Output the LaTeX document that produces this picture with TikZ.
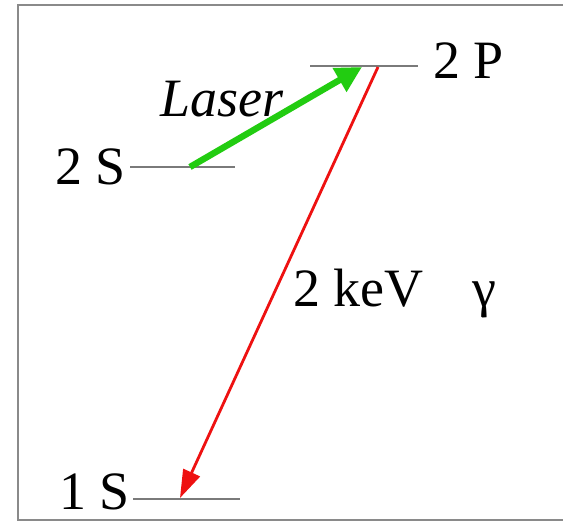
\documentclass[tikz,border=0pt]{standalone}
\usepackage{fontspec}
\setmainfont{Liberation Serif}
\newfontfamily\labfont{Liberation Serif}
\usepackage{tikz}
\usetikzlibrary{arrows.meta}
\definecolor{frame}{HTML}{8A8A8A}
\definecolor{level}{HTML}{7A7A7A}
\definecolor{pump}{HTML}{22CC11}
\definecolor{decay}{HTML}{EE1111}
\tikzset{
  lvl/.style={draw=level, line width=1pt},
  lab/.style={inner sep=0pt, font=\labfont\fontsize{27}{30}\selectfont},
  pumparrow/.style={-{Triangle[length=13pt, width=13pt]}, draw=pump, line width=3.2pt},
  decayarrow/.style={-{Triangle[length=14pt, width=9pt]}, draw=decay, line width=1.4pt}
}
\begin{document}
\begin{tikzpicture}[x=0.5pt, y=-0.5pt]
  \useasboundingbox (0,0) rectangle (563,522);
  \fill[white] (0,0) rectangle (563,522);
  \begin{scope}
    \clip (0,0) rectangle (563,522);
    \draw[frame, line width=1pt] (18,5) rectangle (600,520);
  \end{scope}
  % levels
  \coordinate (pL) at (310,66);  \coordinate (pR) at (418,66);
  \coordinate (sL) at (130,167); \coordinate (sR) at (235,167);
  \coordinate (gL) at (133,499); \coordinate (gR) at (240,499);
  \draw[lvl] (pL)--(pR); \draw[lvl] (sL)--(sR); \draw[lvl] (gL)--(gR);
  \node[lab, anchor=base west] (p2) at (433,79) {2 P};
  \node[lab, anchor=base east] (s2) at (126,185) {2 S};
  \node[lab, anchor=base east] (s1) at (130,510) {1 S};
  % transitions
  \coordinate (pumpA) at (190,167); \coordinate (pumpB) at (362,67);
  \coordinate (decA) at (378,67);   \coordinate (decB) at (180,498);
  \draw[pumparrow] (pumpA)--(pumpB);
  \draw[decayarrow] (decA)--(decB);
  \node[lab, anchor=base west, font=\labfont\fontsize{27}{30}\selectfont\itshape] (laser) at (160,117) {Laser};
  \node[lab, anchor=base west] (kev) at (293,307) {2 keV};
  \node[lab, anchor=base west] (gam) at (472,307) {γ};
\end{tikzpicture}
\end{document}
